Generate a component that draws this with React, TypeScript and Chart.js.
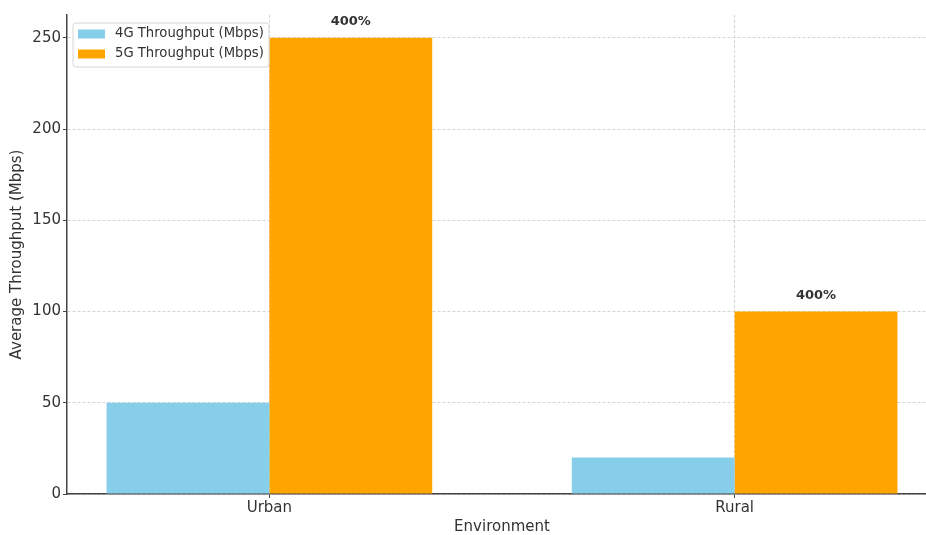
import React, { useEffect, useRef } from "react";
import { Chart, registerables } from "chart.js";

Chart.register(...registerables);

const categories = ["Urban", "Rural"];
const throughput4G = [50, 20];
const throughput5G = [250, 100];
const increaseLabels = ["400%", "400%"];
const seriesNames = ["4G Throughput (Mbps)", "5G Throughput (Mbps)"];
const yTicks = [0, 50, 100, 150, 200, 250];
const colors = ["#87CEEB", "#FFA500"];

const FONT = "'DejaVu Sans', sans-serif";

export default function App() {
  const ref = useRef<HTMLCanvasElement>(null);

  useEffect(() => {
    document.body.style.margin = "0";
    const canvas = ref.current!;

    const labelPlugin = {
      id: "barLabels",
      afterDatasetsDraw(chart: any) {
        const ctx = chart.ctx;
        const meta = chart.getDatasetMeta(1);
        ctx.save();
        ctx.font = `bold 13px ${FONT}`;
        ctx.fillStyle = "#333";
        ctx.textAlign = "center";
        ctx.textBaseline = "middle";
        meta.data.forEach((el: any, i: number) => {
          ctx.fillText(increaseLabels[i], el.x, el.y - 16);
        });
        ctx.restore();
      },
    };

    const legendPlugin = {
      id: "customLegend",
      afterDraw(chart: any) {
        const ctx = chart.ctx;
        const x = 73, y = 23, w = 196, h = 44, r = 3;
        ctx.save();
        ctx.beginPath();
        ctx.moveTo(x + r, y);
        ctx.lineTo(x + w - r, y);
        ctx.quadraticCurveTo(x + w, y, x + w, y + r);
        ctx.lineTo(x + w, y + h - r);
        ctx.quadraticCurveTo(x + w, y + h, x + w - r, y + h);
        ctx.lineTo(x + r, y + h);
        ctx.quadraticCurveTo(x, y + h, x, y + h - r);
        ctx.lineTo(x, y + r);
        ctx.quadraticCurveTo(x, y, x + r, y);
        ctx.closePath();
        ctx.fillStyle = "rgba(255,255,255,0.85)";
        ctx.fill();
        ctx.strokeStyle = "#d6d6d6";
        ctx.lineWidth = 1;
        ctx.stroke();
        ctx.font = `13.2px ${FONT}`;
        ctx.textBaseline = "middle";
        ctx.textAlign = "left";
        chart.data.datasets.forEach((ds: any, i: number) => {
          const cy = y + 11 + i * 20;
          ctx.fillStyle = ds.backgroundColor;
          ctx.fillRect(x + 5, cy - 4.5, 27, 9);
          ctx.fillStyle = "#333";
          ctx.fillText(ds.label, x + 42, cy);
        });
        ctx.restore();
      },
    };

    const gridOpts: any = {
      color: "#d4d4d4",
      tickColor: "#444",
      tickBorderDash: [],
      tickLength: 4,
      offset: false,
    };

    const chart = new Chart(canvas, {
      type: "bar",
      data: {
        datasets: [
          {
            label: seriesNames[0],
            data: throughput4G.map((v, i) => ({ x: i, y: v })),
            backgroundColor: colors[0],
            categoryPercentage: 0.7,
            barPercentage: 1.0,
          },
          {
            label: seriesNames[1],
            data: throughput5G.map((v, i) => ({ x: i, y: v })),
            backgroundColor: colors[1],
            categoryPercentage: 0.7,
            barPercentage: 1.0,
          },
        ],
      },
      options: {
        animation: false,
        responsive: false,
        devicePixelRatio: 1,
        layout: { padding: { left: 0, top: 15, right: 13, bottom: 0 } },
        plugins: {
          legend: { display: false },
          tooltip: { enabled: false },
        },
        scales: {
          x: {
            type: "linear",
            offset: false,
            min: -0.435,
            max: 1.435,
            afterBuildTicks: (scale: any) => {
              scale.ticks = categories.map((_, i) => ({ value: i }));
            },
            afterFit: (scale: any) => {
              scale.height = 41;
            },
            ticks: {
              callback: (v: any) => categories[v] ?? "",
              font: { family: FONT, size: 15 },
              color: "#333",
              padding: 1,
              maxRotation: 0,
            },
            grid: gridOpts,
            border: { display: true, color: "#444", width: 1.5, dash: [3, 2] },
            title: {
              display: true,
              text: "Environment",
              font: { family: FONT, size: 15, lineHeight: 1.0 },
              color: "#333",
              padding: { top: 0, bottom: 0 },
            },
          },
          y: {
            min: 0,
            max: 262.5,
            afterBuildTicks: (scale: any) => {
              scale.ticks = yTicks.map((v) => ({ value: v }));
            },
            afterFit: (scale: any) => {
              scale.width = 67;
            },
            ticks: {
              font: { family: FONT, size: 15 },
              color: "#333",
              padding: 2,
            },
            grid: gridOpts,
            border: { display: true, color: "#444", width: 1.5, dash: [3, 2] },
            title: {
              display: true,
              text: "Average Throughput (Mbps)",
              font: { family: FONT, size: 15 },
              color: "#333",
              padding: { top: 8, bottom: 0 },
            },
          },
        },
      },
      plugins: [labelPlugin, legendPlugin],
    } as any);

    return () => chart.destroy();
  }, []);

  return (
    <div style={{ width: 926, height: 535, overflow: "hidden", background: "#fff" }}>
      <canvas ref={ref} width={950} height={535} style={{ display: "block" }} />
    </div>
  );
}
